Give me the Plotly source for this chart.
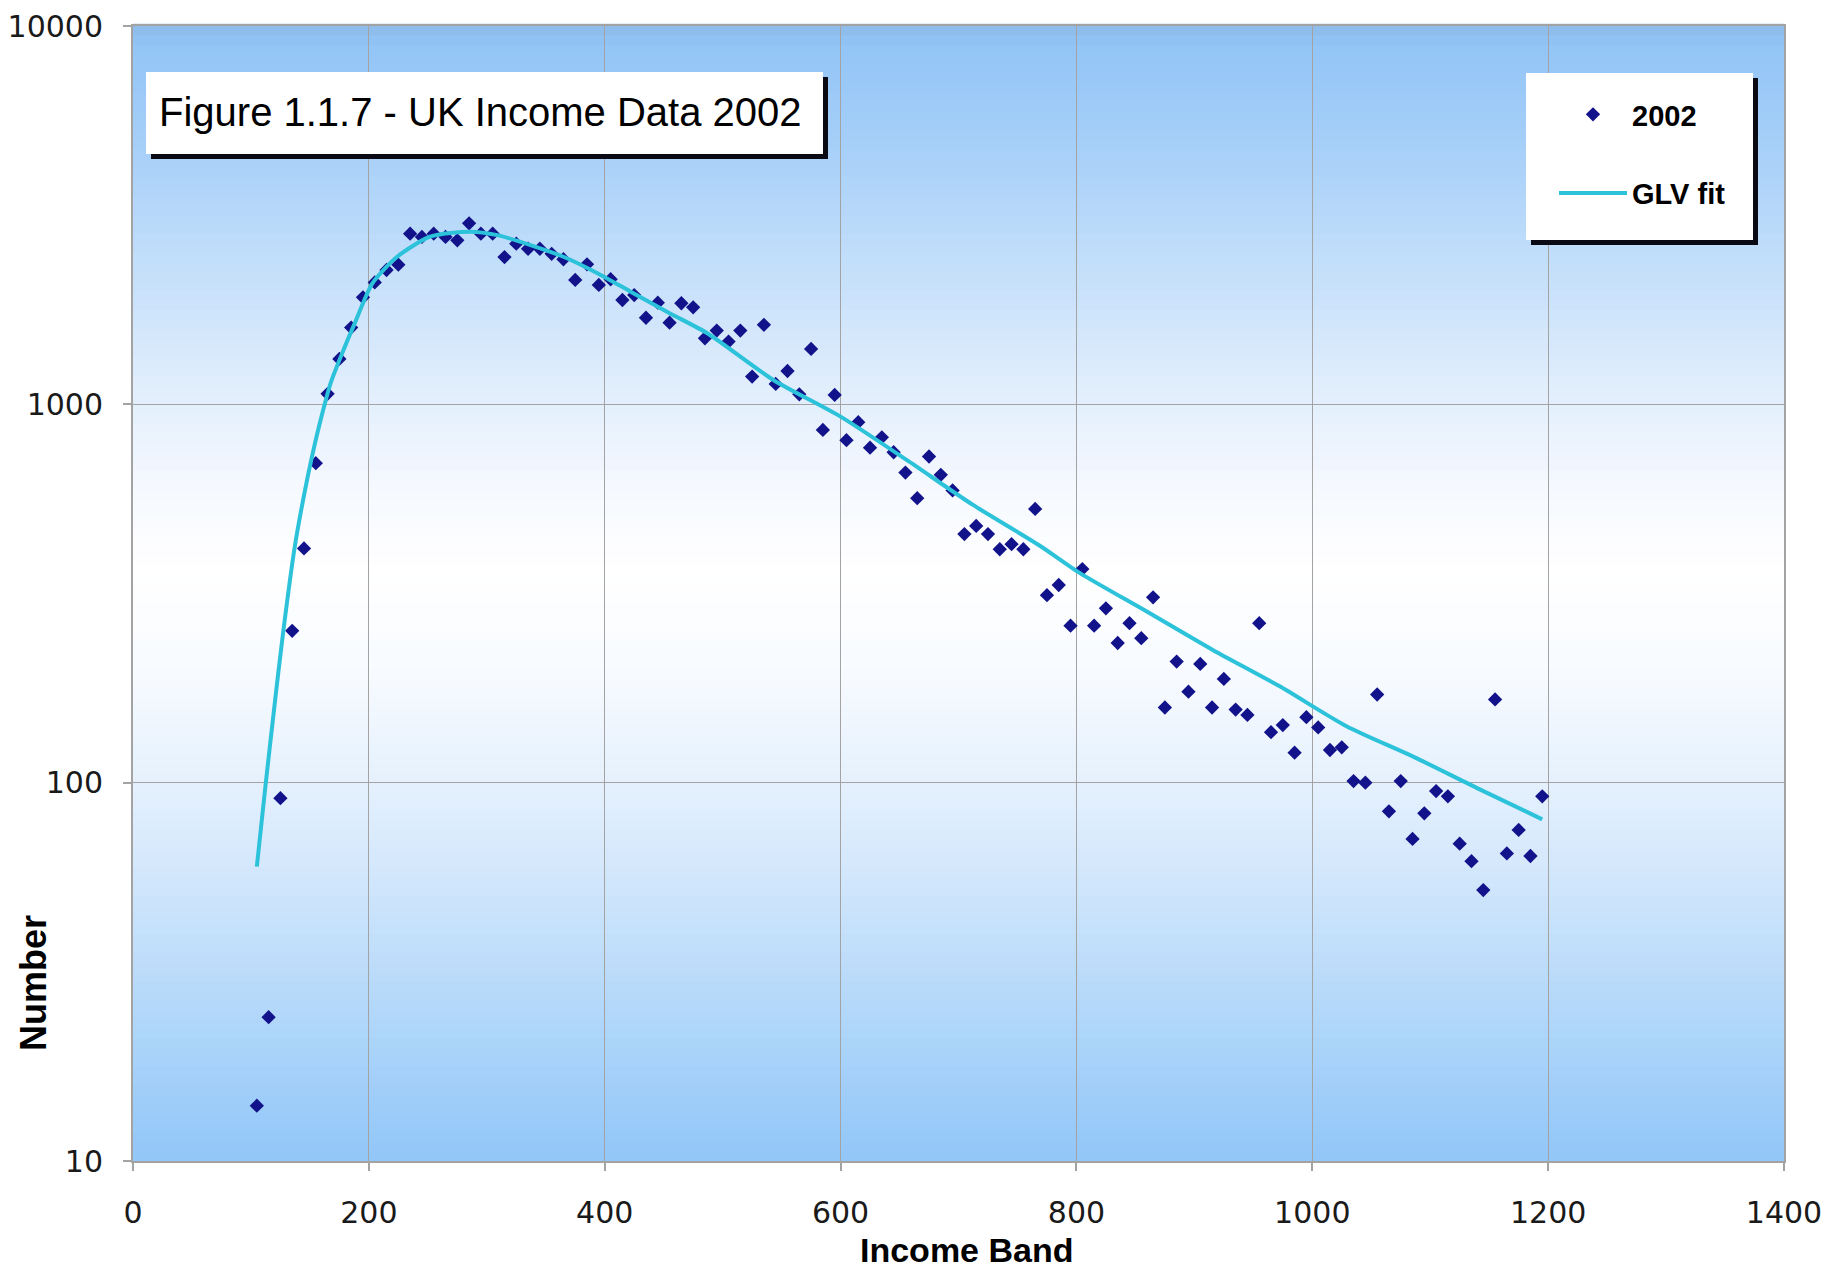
import plotly.graph_objects as go

# ---------------- data ----------------
income_band = [105, 115, 125, 135, 145, 155, 165, 175, 185, 195,
               205, 215, 225, 235, 245, 255, 265, 275, 285, 295,
               305, 315, 325, 335, 345, 355, 365, 375, 385, 395,
               405, 415, 425, 435, 445, 455, 465, 475, 485, 495,
               505, 515, 525, 535, 545, 555, 565, 575, 585, 595,
               605, 615, 625, 635, 645, 655, 665, 675, 685, 695,
               705, 715, 725, 735, 745, 755, 765, 775, 785, 795,
               805, 815, 825, 835, 845, 855, 865, 875, 885, 895,
               905, 915, 925, 935, 945, 955, 965, 975, 985, 995,
               1005, 1015, 1025, 1035, 1045, 1055, 1065, 1075, 1085, 1095,
               1105, 1115, 1125, 1135, 1145, 1155, 1165, 1175, 1185, 1195]

number_2002 = [14, 24, 91, 252, 416, 699, 1066, 1318, 1595, 1918,
               2100, 2265, 2340, 2825, 2770, 2825, 2770, 2713, 3010, 2825,
               2825, 2450, 2659, 2578, 2578, 2500, 2418, 2132, 2344, 2068,
               2141, 1887, 1945, 1694, 1857, 1644, 1850, 1805, 1495, 1567,
               1465, 1567, 1184, 1622, 1132, 1225, 1063, 1401, 856, 1059,
               804, 897, 768, 818, 747, 660, 565, 728, 651, 592,
               454, 477, 454, 414, 427, 414, 529, 313, 333, 260,
               367, 260, 289, 234, 264, 241, 309, 158, 209, 174,
               206, 158, 188, 156, 151, 264, 136, 142, 120, 149,
               140, 122, 124, 101, 100, 171, 84, 101, 71, 83,
               95, 92, 69, 62, 52, 166, 65, 75, 64, 92]

fit_band = [105, 112, 120, 127, 137, 145, 152, 160, 168, 178, 188, 203, 224, 252,
            286, 309, 337, 365, 393, 422, 455, 487, 543, 600, 656, 712, 769,
            803, 860, 916, 972, 1029, 1086, 1142, 1195]
fit_number = [60, 96, 160, 245, 417, 575, 733, 933, 1148, 1380, 1637, 2089, 2455, 2774,
              2860, 2800, 2636, 2455, 2228, 1985, 1741, 1541, 1160, 928, 713, 543, 423,
              358, 283, 224, 180, 141, 117, 96, 80]

x_ticks = [0, 200, 400, 600, 800, 1000, 1200, 1400]
y_ticks = [10, 100, 1000, 10000]

chart_title = "Figure 1.1.7 - UK Income Data 2002"
x_title = "Income Band"
y_title = "Number"

# ---------------- layout geometry ----------------
# page body has an 8px margin, so the figure is drawn 8px in from the window
OFF = 8
W, H = 1843 - 2 * OFF, 1278 - 2 * OFF
# plot area in screen pixels
L, R, T, B = 133, 1784, 26, 1161


def px(X):
    return (X - L) / (R - L)


def py(Y):
    return (B - Y) / (B - T)


fig = go.Figure()

fig.add_trace(go.Scatter(
    x=income_band, y=number_2002, mode="markers", name="2002",
    legendgroup="g1",
    marker=dict(symbol="diamond", size=11, color="#12128A",
                line=dict(width=0)),
))
fig.add_trace(go.Scatter(
    x=fit_band, y=fit_number, mode="lines", name="GLV fit",
    legendgroup="g2",
    line=dict(color="#2CC2DA", width=4, shape="spline", smoothing=0.7),
))

# ---------------- gradient plot background ----------------
stops = [
    (0.00, (146, 198, 248)),
    (0.06, (160, 206, 249)),
    (0.16, (186, 219, 250)),
    (0.26, (212, 232, 252)),
    (0.33, (228, 240, 253)),
    (0.42, (246, 250, 255)),
    (0.52, (255, 255, 255)),
    (0.60, (244, 248, 254)),
    (0.70, (220, 235, 252)),
    (0.80, (192, 221, 250)),
    (0.90, (165, 206, 248)),
    (0.985, (146, 196, 246)),
    (1.00, (140, 186, 232)),
]


def color_at(t):
    for (t0, c0), (t1, c1) in zip(stops[:-1], stops[1:]):
        if t0 <= t <= t1:
            f = (t - t0) / (t1 - t0) if t1 > t0 else 0
            c = [round(a + (b - a) * f) for a, b in zip(c0, c1)]
            return "rgb(%d,%d,%d)" % tuple(c)
    return "rgb(%d,%d,%d)" % stops[-1][1]


shapes = []
N = 120
for i in range(N):
    y0 = i / N
    y1 = (i + 1) / N
    shapes.append(dict(
        type="rect", xref="x domain", yref="y domain",
        x0=0, x1=1, y0=y0, y1=y1 + 0.002,
        fillcolor=color_at((y0 + y1) / 2), line=dict(width=0),
        layer="below",
    ))

# title box with shadow
shapes.append(dict(type="rect", xref="paper", yref="paper",
                   x0=px(151), x1=px(828), y0=py(159), y1=py(77),
                   fillcolor="#0A0A14", line=dict(width=0), layer="above"))
shapes.append(dict(type="rect", xref="paper", yref="paper",
                   x0=px(146), x1=px(823), y0=py(154), y1=py(72),
                   fillcolor="#FFFFFF", line=dict(width=0), layer="above"))
# legend box with shadow
shapes.append(dict(type="rect", xref="paper", yref="paper",
                   x0=px(1531), x1=px(1758), y0=py(245), y1=py(78),
                   fillcolor="#0A0A14", line=dict(width=0), layer="above"))
shapes.append(dict(type="rect", xref="paper", yref="paper",
                   x0=px(1526), x1=px(1753), y0=py(240), y1=py(73),
                   fillcolor="#FFFFFF", line=dict(width=0), layer="above"))

annotations = [
    dict(text=chart_title, xref="paper", yref="paper",
         x=px(157), y=py(112), xanchor="left", yanchor="middle",
         showarrow=False,
         font=dict(family="Liberation Sans, Arial, sans-serif", size=40,
                   color="#000000")),
    dict(text=x_title, xref="paper", yref="paper",
         x=px(966), y=py(1250), xanchor="center", yanchor="middle",
         showarrow=False,
         font=dict(family="Liberation Sans, Arial, sans-serif", size=34,
                   color="#000000", weight="bold")),
    dict(text=y_title, xref="paper", yref="paper",
         x=px(33), y=py(983), xanchor="center", yanchor="middle",
         textangle=-90, showarrow=False,
         font=dict(family="Liberation Sans, Arial, sans-serif", size=36,
                   color="#000000", weight="bold")),
]

axis_common = dict(
    showgrid=True, gridcolor="#A3A3A3", gridwidth=1,
    showline=True, linecolor="#A3A3A3", linewidth=2, mirror=True,
    ticks="outside", ticklen=8, tickwidth=2, tickcolor="#A3A3A3",
    tickfont=dict(family="DejaVu Sans, sans-serif", size=30, color="#1A1A1A"),
    zeroline=False, automargin=False,
)

fig.update_layout(
    width=W, height=H,
    margin=dict(l=L - OFF, r=W - (R - OFF), t=T - OFF, b=H - (B - OFF), pad=0,
                autoexpand=False),
    paper_bgcolor="#FFFFFF",
    plot_bgcolor="rgba(0,0,0,0)",
    shapes=shapes,
    annotations=annotations,
    showlegend=True,
    legend=dict(
        x=px(1554), y=py(89), xanchor="left", yanchor="top",
        bgcolor="rgba(0,0,0,0)", borderwidth=0,
        itemwidth=68, traceorder="grouped", tracegroupgap=38,
        font=dict(family="Liberation Sans, Arial, sans-serif", size=29,
                  color="#000000", weight="bold"),
    ),
    xaxis=dict(range=[0, 1400], tickvals=x_ticks, ticklabelstandoff=16,
               **axis_common),
    yaxis=dict(type="log", range=[1, 4], tickvals=y_ticks,
               ticktext=[str(v) for v in y_ticks], ticklabelstandoff=14,
               **axis_common),
)

fig.write_html("out.html")
